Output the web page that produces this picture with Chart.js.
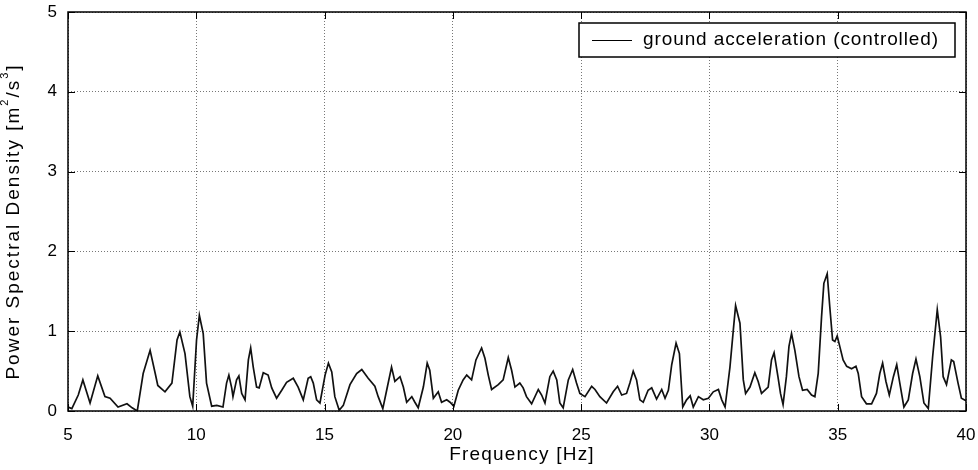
<!DOCTYPE html>
<html>
<head>
<meta charset="utf-8">
<script src="https://cdn.jsdelivr.net/npm/chart.js@4/dist/chart.umd.min.js"></script>
<style>
  html, body { margin: 0; padding: 0; background: #fff; }
  #wrap { width: 978px; height: 470px; }
</style>
</head>
<body>
<div id="wrap"><canvas id="psd"></canvas></div>
<script>
// frequency [Hz] and PSD values
const freq = [
  5.0, 5.15, 5.4, 5.58, 5.86, 6.16, 6.44, 6.64, 6.95, 7.3, 7.5, 7.7, 7.93, 8.2, 8.4, 8.5, 8.78,
  9.05, 9.25, 9.36, 9.56, 9.75, 9.86, 10.01, 10.12, 10.27, 10.4, 10.6, 10.8, 11.04, 11.18, 11.27,
  11.38, 11.43, 11.57, 11.66, 11.77, 11.9, 12.03, 12.12, 12.22, 12.35, 12.45, 12.61, 12.8, 12.94,
  13.13, 13.33, 13.52, 13.78, 13.97, 14.17, 14.36, 14.46, 14.56, 14.69, 14.82, 15.02, 15.15,
  15.28, 15.4, 15.57, 15.73, 15.99, 16.25, 16.45, 16.7, 16.96, 17.09, 17.27, 17.42, 17.61, 17.74,
  17.94, 18.07, 18.2, 18.4, 18.52, 18.65, 18.85, 19.0, 19.1, 19.24, 19.43, 19.56, 19.76, 19.89,
  20.04, 20.21, 20.4, 20.54, 20.73, 20.9, 21.12, 21.25, 21.38, 21.51, 21.77, 21.96, 22.16, 22.29,
  22.42, 22.61, 22.74, 22.87, 23.07, 23.33, 23.46, 23.59, 23.78, 23.91, 24.05, 24.17, 24.3, 24.5,
  24.67, 24.82, 24.95, 25.15, 25.41, 25.54, 25.73, 25.99, 26.25, 26.42, 26.58, 26.77, 26.9, 27.03,
  27.16, 27.29, 27.42, 27.61, 27.75, 27.94, 28.14, 28.27, 28.4, 28.53, 28.7, 28.83, 28.96, 29.11,
  29.25, 29.37, 29.57, 29.76, 29.96, 30.15, 30.35, 30.48, 30.61, 30.8, 30.93, 31.02, 31.19, 31.32,
  31.41, 31.58, 31.77, 31.9, 32.03, 32.29, 32.42, 32.52, 32.67, 32.77, 32.87, 33.0, 33.1, 33.2,
  33.33, 33.49, 33.63, 33.81, 33.98, 34.11, 34.24, 34.37, 34.46, 34.59, 34.69, 34.8, 34.89, 34.98,
  35.08, 35.21, 35.35, 35.54, 35.71, 35.8, 35.93, 36.12, 36.32, 36.51, 36.64, 36.75, 36.88, 37.01,
  37.17, 37.3, 37.42, 37.58, 37.75, 37.92, 38.05, 38.2, 38.36, 38.53, 38.7, 38.88, 39.01, 39.11,
  39.24, 39.43, 39.52, 39.69, 39.82, 40.0
];
const psd = [
  0.05, 0.03, 0.2, 0.39, 0.1, 0.44, 0.18, 0.16, 0.05, 0.09, 0.04, 0.0, 0.47, 0.76, 0.47, 0.32, 0.24,
  0.35, 0.89, 0.99, 0.72, 0.18, 0.06, 0.89, 1.2, 0.97, 0.35, 0.06, 0.07, 0.05, 0.35, 0.45,
  0.29, 0.18, 0.39, 0.44, 0.22, 0.14, 0.64, 0.79, 0.55, 0.3, 0.29, 0.48, 0.45, 0.29,
  0.16, 0.26, 0.36, 0.41, 0.3, 0.14, 0.41, 0.43, 0.35, 0.14, 0.1, 0.45, 0.6,
  0.49, 0.18, 0.01, 0.07, 0.33, 0.47, 0.52, 0.41, 0.31, 0.18, 0.03, 0.26, 0.55, 0.37,
  0.43, 0.3, 0.11, 0.18, 0.11, 0.04, 0.3, 0.6, 0.51, 0.16, 0.24, 0.11, 0.14, 0.11,
  0.06, 0.26, 0.39, 0.45, 0.39, 0.64, 0.79, 0.66, 0.45, 0.27, 0.33, 0.39, 0.67, 0.51,
  0.3, 0.35, 0.29, 0.18, 0.09, 0.27, 0.2, 0.1, 0.43, 0.5, 0.39, 0.1, 0.04, 0.39,
  0.52, 0.35, 0.22, 0.18, 0.31, 0.27, 0.18, 0.1, 0.24, 0.31, 0.2, 0.22, 0.35, 0.5,
  0.39, 0.14, 0.11, 0.26, 0.29, 0.15, 0.27, 0.16, 0.26, 0.58, 0.85, 0.72, 0.05, 0.14,
  0.19, 0.05, 0.18, 0.14, 0.16, 0.24, 0.27, 0.14, 0.05, 0.55, 1.01, 1.32, 1.1, 0.39,
  0.22, 0.3, 0.48, 0.37, 0.22, 0.3, 0.64, 0.73, 0.43, 0.22, 0.08, 0.43, 0.81, 0.97,
  0.76, 0.43, 0.26, 0.27, 0.2, 0.18, 0.47, 1.18, 1.6, 1.72, 1.31, 0.89, 0.87, 0.94,
  0.81, 0.64, 0.56, 0.53, 0.56, 0.47, 0.18, 0.09, 0.09, 0.22, 0.47, 0.6, 0.37, 0.2,
  0.43, 0.58, 0.35, 0.05, 0.14, 0.47, 0.65, 0.43, 0.1, 0.03, 0.68, 1.27, 0.93, 0.43,
  0.33, 0.64, 0.62, 0.35, 0.16, 0.13
];
const xTicks = [5, 10, 15, 20, 25, 30, 35, 40];
const yTicks = [0, 1, 2, 3, 4, 5];
const seriesLabel = 'ground acceleration (controlled)';
const xTitle = 'Frequency [Hz]';
const yTitle = ['Power Spectral Density [m', '2', '/s', '3', ']'];

const font = 'Liberation Sans, Arial, sans-serif';

// draws text pieces, odd pieces as superscripts, centred on 0,0
function drawSupText(ctx, parts, size, spacing) {
  const big = size + 'px ' + font, small = Math.round(size * 0.6) + 'px ' + font;
  ctx.letterSpacing = spacing + 'px';
  let total = 0;
  const widths = parts.map((p, i) => {
    ctx.font = i % 2 ? small : big;
    const w = ctx.measureText(p).width;
    total += w;
    return w;
  });
  let x = -total / 2;
  parts.forEach((p, i) => {
    ctx.font = i % 2 ? small : big;
    ctx.fillText(p, x, i % 2 ? -size * 0.45 : 0);
    x += widths[i];
  });
  ctx.letterSpacing = '0px';
}

// box round the plot, inward tick marks, axis titles and the legend box
const framePlugin = {
  id: 'frame',
  afterDraw(chart) {
    const ctx = chart.ctx;
    const a = chart.chartArea;
    const xs = chart.scales.x, ys = chart.scales.y;
    ctx.save();
    ctx.strokeStyle = '#000';
    ctx.lineWidth = 1.5;
    ctx.strokeRect(a.left, a.top, a.right - a.left, a.bottom - a.top);
    ctx.lineWidth = 1;
    ctx.beginPath();
    for (const v of xTicks) {
      const px = Math.round(xs.getPixelForValue(v)) + 0.5;
      ctx.moveTo(px, a.bottom); ctx.lineTo(px, a.bottom - 7);
      ctx.moveTo(px, a.top); ctx.lineTo(px, a.top + 7);
    }
    for (const v of yTicks) {
      const py = Math.round(ys.getPixelForValue(v)) + 0.5;
      ctx.moveTo(a.left, py); ctx.lineTo(a.left + 7, py);
      ctx.moveTo(a.right, py); ctx.lineTo(a.right - 7, py);
    }
    ctx.stroke();

    // axis titles
    ctx.fillStyle = '#000';
    ctx.textBaseline = 'middle';
    ctx.textAlign = 'left';
    ctx.save();
    ctx.translate((a.left + a.right) / 2 + 5, a.bottom + 44);
    drawSupText(ctx, [xTitle], 19, 1.2);
    ctx.restore();
    ctx.save();
    ctx.translate(14, (a.top + a.bottom) / 2 + 10);
    ctx.rotate(-Math.PI / 2);
    drawSupText(ctx, yTitle, 19, 2.0);
    ctx.restore();

    // legend
    const bx = a.left + 511, by = a.top + 11, bw = 376, bh = 34;
    ctx.fillStyle = '#fff';
    ctx.fillRect(bx, by, bw, bh);
    ctx.lineWidth = 1.5;
    ctx.strokeRect(bx, by, bw, bh);
    ctx.beginPath();
    ctx.lineWidth = 1.2;
    ctx.moveTo(bx + 13, by + 17.5);
    ctx.lineTo(bx + 53, by + 17.5);
    ctx.stroke();
    ctx.fillStyle = '#000';
    ctx.font = '19px ' + font;
    ctx.letterSpacing = '0.9px';
    ctx.fillText(seriesLabel, bx + 64, by + 17);
    ctx.letterSpacing = '0px';
    ctx.restore();
  }
};

const ctx = document.getElementById('psd').getContext('2d');
const chart = new Chart(ctx, {
  type: 'line',
  data: {
    datasets: [{
      label: seriesLabel,
      data: freq.map((f, i) => ({ x: f, y: psd[i] })),
      borderColor: '#111',
      borderWidth: 1.7,
      pointRadius: 0,
      tension: 0,
      fill: false
    }]
  },
  options: {
    responsive: true,
    maintainAspectRatio: false,
    animation: false,
    layout: { padding: { top: 12, right: 12, left: 0, bottom: 0 } },
    plugins: {
      legend: { display: false },
      tooltip: { enabled: false }
    },
    scales: {
      x: {
        type: 'linear',
        min: 5,
        max: 40,
        afterBuildTicks(scale) { scale.ticks = xTicks.map(v => ({ value: v })); },
        afterFit(scale) {
          scale.height = 59;
          scale.paddingLeft = 0;
          scale.paddingRight = 0;
        },
        ticks: { color: '#000', font: { family: font, size: 17 }, padding: 14, maxRotation: 0 },
        grid: { color: '#777', lineWidth: 1, drawTicks: false },
        border: { display: false, dash: [1, 2] }
      },
      y: {
        min: 0,
        max: 5,
        afterBuildTicks(scale) { scale.ticks = yTicks.map(v => ({ value: v })); },
        afterFit(scale) {
          scale.width = 68;
          scale.paddingTop = 0;
          scale.paddingBottom = 0;
        },
        ticks: { color: '#000', font: { family: font, size: 17 }, padding: 11 },
        grid: { color: '#777', lineWidth: 1, drawTicks: false },
        border: { display: false, dash: [1, 2] }
      }
    }
  },
  plugins: [framePlugin]
});
</script>
</body>
</html>
